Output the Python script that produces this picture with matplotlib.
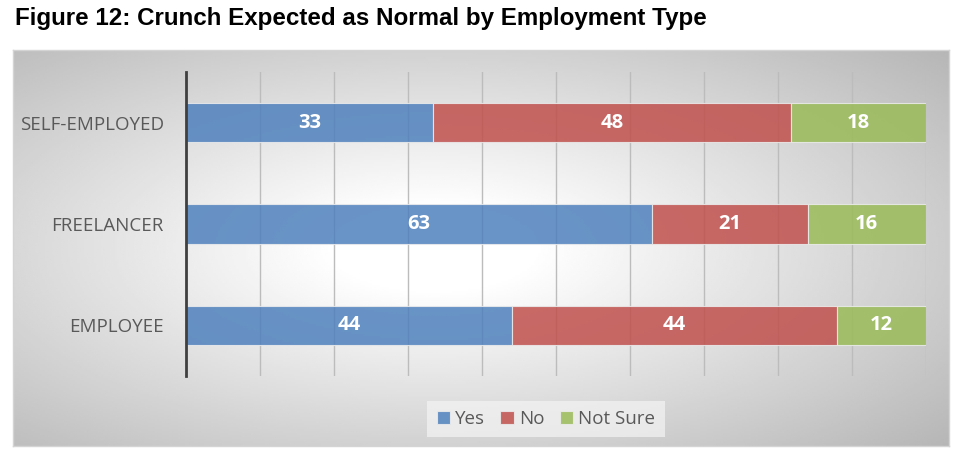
import numpy as np
import matplotlib.pyplot as plt

categories = ['EMPLOYEE', 'FREELANCER', 'SELF-EMPLOYED']
yes = [44, 63, 33]
no = [44, 21, 48]
not_sure = [12, 16, 18]
series_names = ['Yes', 'No', 'Not Sure']
colors = ['#4f81bd', '#c0504d', '#9bbb59']

W, H = 964, 458
fig = plt.figure(figsize=(W / 100, H / 100), dpi=100)

# chart box with radial gradient
bg = fig.add_axes([13 / W, 1 - 446 / H, 936 / W, 396 / H])
gx, gy = np.meshgrid(np.linspace(-1, 1, 400), np.linspace(-1, 1, 200))
r = np.sqrt((gx + 0.1) ** 2 + gy ** 2) / np.sqrt(2)
img = 1 - 0.27 * np.clip((r - 0.15) / 0.85, 0, None)
bg.imshow(img, cmap='gray', vmin=0, vmax=1, aspect='auto', extent=[0, 1, 0, 1])
bg.set_xticks([])
bg.set_yticks([])
for s in bg.spines.values():
    s.set_color('#d4d4d4')
    s.set_linewidth(1)

fig.text(15 / W, 1 - 19 / H, 'Figure 12: Crunch Expected as Normal by Employment Type',
         fontsize=17.4, fontweight='bold', family='Liberation Sans', va='center', ha='left')

ax = fig.add_axes([186 / W, 1 - 376 / H, 740 / W, 304 / H])
ax.patch.set_alpha(0)

data = np.array([yes, no, not_sure], dtype=float)
pct = data / data.sum(axis=0) * 100
y = np.arange(len(categories))
left = np.zeros(len(categories))
for i, name in enumerate(series_names):
    bars = ax.barh(y, pct[i], left=left, height=0.39, color=colors[i], alpha=0.85,
                   edgecolor='#ececec', linewidth=0.8, label=name, zorder=3)
    for j, b in enumerate(bars):
        ax.text(left[j] + pct[i][j] / 2, y[j], f'{int(data[i][j])}', ha='center', va='center',
                color='white', fontsize=14.5, fontweight='bold', family='Open Sans', zorder=4)
    left += pct[i]

ax.set_xlim(0, 100)
ax.set_ylim(-0.5, 2.5)
ax.set_xticks(np.arange(0, 101, 10))
ax.set_xticklabels([])
ax.tick_params(axis='x', length=0)
ax.grid(axis='x', color='#bcbcbc', linewidth=1, zorder=1)
ax.set_yticks(y)
ax.set_yticklabels(categories, fontsize=13.5, color='#595959', family='Open Sans')
ax.tick_params(axis='y', length=0, pad=16)
for s in ['top', 'right', 'bottom']:
    ax.spines[s].set_visible(False)
ax.spines['left'].set_color('#404040')
ax.spines['left'].set_linewidth(2)
ax.spines['left'].set_zorder(5)

leg = fig.legend(loc='center', bbox_to_anchor=(546 / W, 1 - 419 / H), ncol=3, frameon=True,
                 fancybox=False, handlelength=0.7, handleheight=0.7, handletextpad=0.3,
                 columnspacing=0.8, borderpad=0.5, prop={'family': 'Open Sans', 'size': 13.5})
leg.get_frame().set_facecolor('#f4f4f4')
leg.get_frame().set_edgecolor('none')
leg.get_frame().set_alpha(0.7)
for t in leg.get_texts():
    t.set_color('#595959')

fig.savefig('out.png', dpi=100)
